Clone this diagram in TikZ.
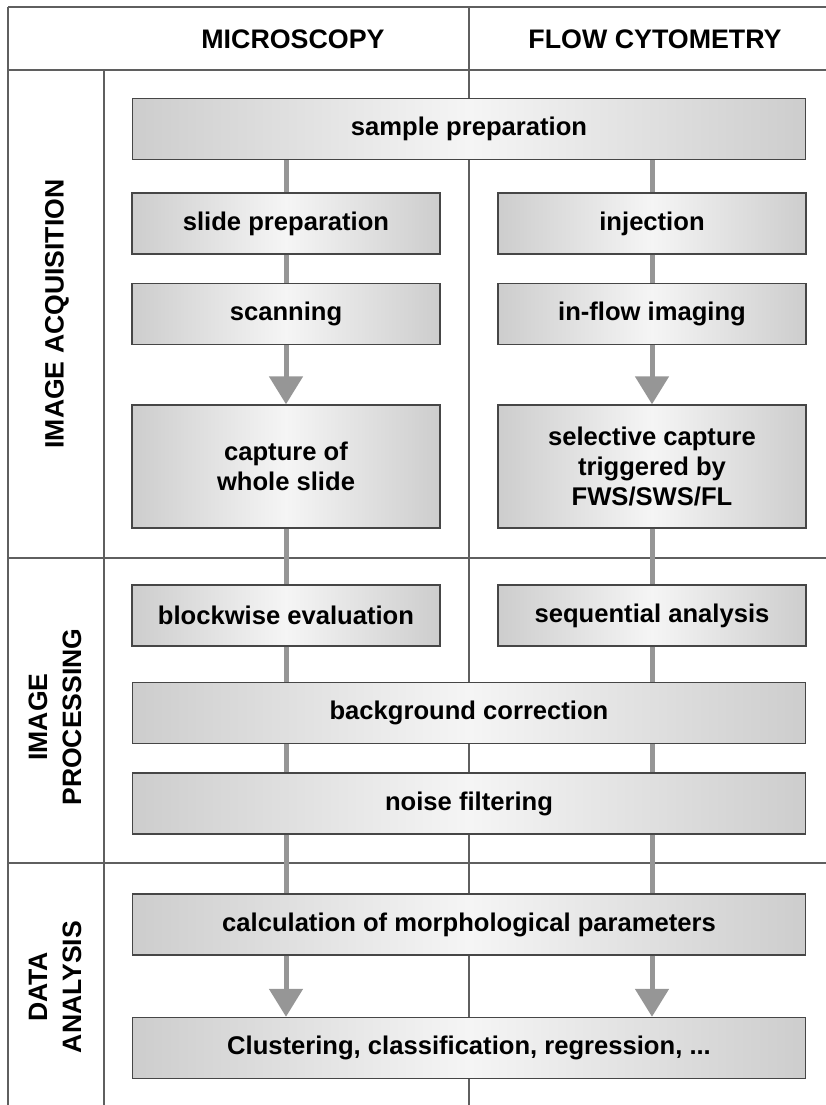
\documentclass[tikz,border=0pt]{standalone}
\usepackage{fontspec}
\setmainfont{Liberation Sans}
\usetikzlibrary{arrows.meta, positioning}
\definecolor{framegray}{RGB}{95,95,95}
\definecolor{linkgray}{RGB}{150,150,150}
\definecolor{boxedge}{RGB}{70,70,70}
\definecolor{boxside}{RGB}{205,205,205}
\definecolor{boxmid}{RGB}{245,245,245}

\begin{document}
\begin{tikzpicture}[
    x=0.5pt, y=-0.5pt,
    frame/.style={draw=framegray, line width=0.7pt},
    box/.style={draw=boxedge, line width=0.7pt, align=center,
                font=\fontsize{12.8}{15}\selectfont\bfseries,
                left color=boxside, right color=boxside, middle color=boxmid,
                inner sep=2pt, minimum height=30.5pt},
    half/.style={box, minimum width=154pt},
    wide/.style={box, minimum width=336.5pt},
    head/.style={font=\fontsize{13.4}{16}\selectfont\bfseries},
    side/.style={font=\fontsize{13.3}{17}\selectfont\bfseries, rotate=90, align=center},
    link/.style={draw=linkgray, line width=2.5pt},
    flow/.style={link, -{Triangle[width=16.5pt, length=14pt]}, linkgray},
]
\useasboundingbox (0,0) rectangle (826,1105);

% table frame
\draw[frame] (8,7) -- (826,7);
\draw[frame] (8,70) -- (826,70);
\draw[frame] (8,558) -- (826,558);
\draw[frame] (8,863) -- (826,863);
\draw[frame] (8,7) -- (8,1105);
\draw[frame] (104,70) -- (104,1105);
\draw[frame] (469,7) -- (469,1105);

% headers
\node[head] (micro) at (293,39) {MICROSCOPY};
\node[head] (flow) at (655,39) {FLOW CYTOMETRY};
\node[side] (acq) at (57,314) {IMAGE ACQUISITION};
\node[side] (proc) at (55,717) {IMAGE\\PROCESSING};
\node[side] (ana) at (55,987) {DATA\\ANALYSIS};

% image acquisition
\node[wide] (sample) at (469,129) {sample preparation};
\node[half] (slide) at (286,223.5) {slide preparation};
\node[half] (inject) at (652,223.5) {injection};
\node[half] (scan) at (286,314) {scanning};
\node[half] (inflow) at (652,314) {in-flow imaging};
\node[half, minimum height=61.5pt] (capture) at (286,466.5) {capture of\\whole slide};
\node[half, minimum height=61.5pt] (select) at (652,466.5) {selective capture\\triggered by\\FWS/SWS/FL};

% image processing
\node[half] (block) at (286,615.5) {blockwise evaluation};
\node[half] (seq) at (652,615.5) {sequential analysis};
\node[wide] (backgr) at (469,713) {background correction};
\node[wide] (noise) at (469,803.5) {noise filtering};

% data analysis
\node[wide] (calc) at (469,924.5) {calculation of morphological parameters};
\node[wide] (cluster) at (469,1048) {Clustering, classification, regression, ...};

% connectors
\draw[link] (slide.north |- sample.south) -- (slide.north);
\draw[link] (inject.north |- sample.south) -- (inject.north);
\draw[link] (slide) -- (scan);
\draw[link] (inject) -- (inflow);
\draw[flow] (scan) -- (capture);
\draw[flow] (inflow) -- (select);
\draw[link] (capture) -- (block);
\draw[link] (select) -- (seq);
\draw[link] (block.south) -- (block.south |- backgr.north);
\draw[link] (seq.south) -- (seq.south |- backgr.north);
\draw[link] (block.south |- backgr.south) -- (block.south |- noise.north);
\draw[link] (seq.south |- backgr.south) -- (seq.south |- noise.north);
\draw[link] (block.south |- noise.south) -- (block.south |- calc.north);
\draw[link] (seq.south |- noise.south) -- (seq.south |- calc.north);
\draw[flow] (block.south |- calc.south) -- (block.south |- cluster.north);
\draw[flow] (seq.south |- calc.south) -- (seq.south |- cluster.north);
\end{tikzpicture}
\end{document}
